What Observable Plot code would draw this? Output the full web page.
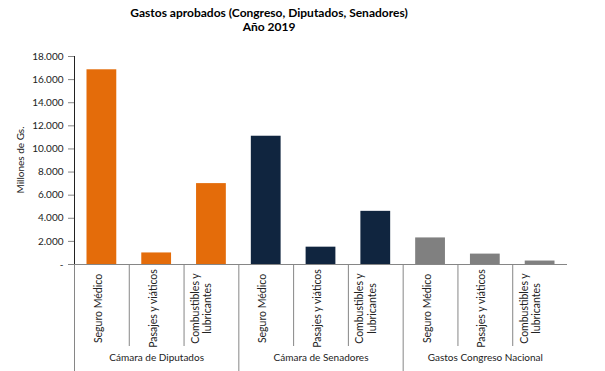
<!DOCTYPE html>
<html>
<head>
<meta charset="utf-8">
<script src="https://cdn.jsdelivr.net/npm/d3@7"></script>
<script src="https://cdn.jsdelivr.net/npm/@observablehq/plot@0.6"></script>
<style>
  body { margin: 0; background: #fff; font-family: Lato, "Liberation Sans", sans-serif; }
  #wrap { position: relative; width: 605px; height: 371px; overflow: hidden; }
  #title { position: relative; height: 40px; }
  .t { position: absolute; left: 269px; transform: translateX(-50%); white-space: nowrap;
       font-weight: bold; font-size: 12px; color: #000; }
  svg g[aria-label^="y-axis"] { color: #868686; }
  svg g[aria-label^="y-axis"] text { fill: #222; }
</style>
</head>
<body>
<div id="wrap">
  <div id="title">
    <div class="t" id="t1" style="top:5px">Gastos aprobados (Congreso, Diputados, Senadores)</div>
    <div class="t" id="t2" style="top:19px">Año 2019</div>
  </div>
  <div id="chart"></div>
</div>
<script>
const groups = ["Cámara de Diputados", "Cámara de Senadores", "Gastos Congreso Nacional"];
const items = ["Seguro Médico", "Pasajes y viáticos", "Combustibles y\nlubricantes"];
const diputados = [16850, 1000, 7000];
const senadores = [11100, 1500, 4600];
const congreso = [2300, 900, 300];
const groupColors = ["#E46C0A", "#10253F", "#808080"];
const yTicks = [0, 2000, 4000, 6000, 8000, 10000, 12000, 14000, 16000, 18000];

const series = [diputados, senadores, congreso];
const rows = [];
groups.forEach((g, gi) => items.forEach((it, ii) => {
  rows.push({group: g, item: it, idx: gi * items.length + ii, value: series[gi][ii]});
}));
const groupRows = groups.map((g, gi) => ({group: g, mid: gi * items.length + items.length / 2}));
const inner = rows.map(r => r.idx).filter(i => i % items.length !== 0);
const outer = groups.map((g, gi) => gi * items.length);

const fmt = d => d === 0 ? "-" : d3.format(",")(d).replace(/,/g, ".");

const height = 331, marginTop = 16, marginBottom = 107;
const plotH = height - marginTop - marginBottom;

const chart = Plot.plot({
  width: 605,
  height,
  marginTop,
  marginBottom,
  marginLeft: 74,
  marginRight: 38,
  style: {fontFamily: "Lato, 'Liberation Sans', sans-serif", fontSize: "10px", color: "#222", background: "#fff"},
  x: {domain: [0, rows.length], axis: null},
  y: {domain: [0, 18000], ticks: yTicks.length - 1, tickFormat: fmt, tickSize: 6, tickPadding: 5, line: true, label: null},
  color: {domain: groups, range: groupColors},
  marks: [
    Plot.rectY(rows, {x1: "idx", x2: d => d.idx + 1, y: "value", fill: "group", insetLeft: 12.5, insetRight: 12.5}),
    Plot.ruleY([0], {stroke: "#868686"}),
    Plot.ruleX(inner, {stroke: "#868686", insetTop: plotH, insetBottom: -82}),
    Plot.ruleX(outer, {stroke: "#868686", insetTop: plotH, insetBottom: -110}),
    Plot.text(rows, {x: d => d.idx + 0.5, text: "item", frameAnchor: "bottom", dy: 44, rotate: -90, textAnchor: "middle", lineHeight: 1.2, fill: "#222", fontSize: 10.5}),
    Plot.text(groupRows, {x: "mid", text: "group", frameAnchor: "bottom", dy: 96, fill: "#222", fontSize: 10})
  ]
});
document.getElementById("chart").appendChild(chart);

// y-axis title
const svg = d3.select(chart);
svg.append("text")
  .attr("transform", `translate(21, ${160 - 40}) rotate(-90)`)
  .attr("text-anchor", "middle")
  .attr("dominant-baseline", "middle")
  .attr("font-size", 10)
  .attr("fill", "#222")
  .text("Millones de Gs.");
</script>
</body>
</html>
